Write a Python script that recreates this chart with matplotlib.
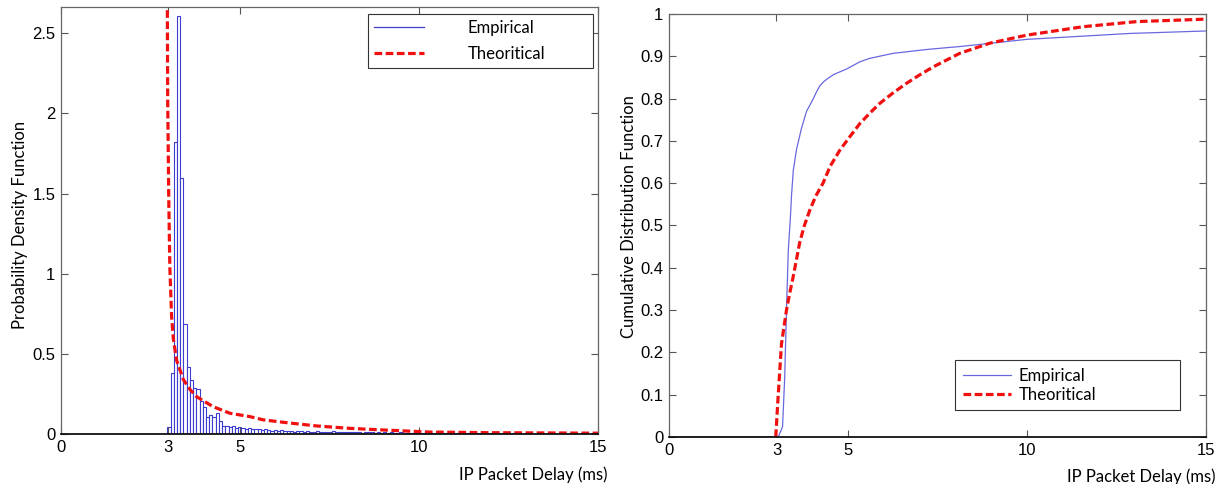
import numpy as np
import matplotlib
matplotlib.use("Agg")
import matplotlib.pyplot as plt

# histogram of measured delays (density), bins of 0.09 ms starting at 2.97 ms
bin_start = 2.97
bin_width = 0.09
pdf_heights = [
    0.047, 0.38, 1.82, 2.61, 1.60, 0.69, 0.42, 0.34, 0.29, 0.28,
    0.21, 0.17, 0.11, 0.12, 0.11, 0.13, 0.08, 0.05, 0.05,
    0.045, 0.05, 0.04, 0.045,
    0.04, 0.035, 0.04, 0.03, 0.035, 0.03, 0.025, 0.03, 0.025, 0.02, 0.025,
    0.02, 0.025, 0.02, 0.018, 0.02, 0.015, 0.02, 0.018, 0.015, 0.02, 0.015,
    0.015, 0.018, 0.012, 0.015, 0.015, 0.012, 0.018, 0.015, 0.012, 0.015, 0.012,
    0.015, 0.012, 0.012, 0.015, 0.01, 0.012, 0.015, 0.012, 0.01, 0.012, 0.01,
    0.012, 0.01, 0.012, 0.01, 0.01, 0.012, 0.008, 0.01, 0.01, 0.008, 0.01,
    0.008, 0.01, 0.008, 0.008, 0.007, 0.008, 0.007, 0.008, 0.006, 0.007, 0.006,
    0.006, 0.007, 0.005, 0.006, 0.006, 0.005, 0.006, 0.005, 0.005, 0.006, 0.005,
    0.005, 0.004, 0.005, 0.004, 0.005, 0.004, 0.004, 0.005, 0.004, 0.004, 0.004,
    0.004, 0.003, 0.004, 0.003, 0.004, 0.003, 0.003, 0.004, 0.003, 0.003, 0.003,
    0.003, 0.003, 0.002, 0.003, 0.003, 0.002, 0.003, 0.002, 0.002, 0.003, 0.002, 0.002,
]

# theoretical pdf
pdf_x = [2.96, 2.97, 2.98, 3.01, 3.04, 3.09, 3.14, 3.23, 3.42, 3.60, 3.79,
         4.25, 4.72, 5.28, 5.65, 6.2, 7.14, 8.07, 9.0, 10.3, 12.0, 15.0]
pdf_y = [2.9, 2.66, 2.09, 1.46, 1.04, 0.73, 0.59, 0.46, 0.34, 0.28, 0.234,
         0.172, 0.131, 0.11, 0.09, 0.075, 0.052, 0.037, 0.027, 0.014, 0.01, 0.007]

# empirical cdf
ecdf_x = [0, 3.05, 3.17, 3.23, 3.28, 3.33, 3.39, 3.42, 3.47, 3.56, 3.70, 3.84,
          3.95, 4.03, 4.12, 4.21, 4.32, 4.44, 4.6, 4.96, 5.33, 5.6, 6.26, 7.19,
          7.84, 8.12, 9.99, 12.87, 15.06]
ecdf_y = [0, 0, 0.024, 0.14, 0.30, 0.44, 0.52, 0.57, 0.63, 0.68, 0.73, 0.77,
          0.787, 0.80, 0.816, 0.83, 0.84, 0.848, 0.857, 0.87, 0.887, 0.895,
          0.907, 0.916, 0.921, 0.923, 0.94, 0.954, 0.96]

# theoretical cdf
tcdf_x = [2.98, 3.05, 3.14, 3.28, 3.37, 3.47, 3.56, 3.65, 3.78, 3.93, 4.1,
          4.30, 4.5, 4.77, 5.05, 5.33, 5.6, 5.89, 6.25, 6.63, 7.0, 7.38, 7.84,
          8.12, 8.96, 9.99, 11.57, 13.06, 15.06]
tcdf_y = [0, 0.10, 0.22, 0.30, 0.34, 0.38, 0.42, 0.46, 0.50, 0.536, 0.57,
          0.60, 0.64, 0.678, 0.71, 0.741, 0.765, 0.789, 0.813, 0.836, 0.856,
          0.875, 0.895, 0.907, 0.931, 0.95, 0.97, 0.982, 0.988]

xticks = [0, 3, 5, 10, 15]
pdf_yticks = [0, 0.5, 1, 1.5, 2, 2.5]
pdf_yticklabels = ["0", "0.5", "1", "1.5", "2", "2.5"]
cdf_yticks = [0, 0.1, 0.2, 0.3, 0.4, 0.5, 0.6, 0.7, 0.8, 0.9, 1]
cdf_yticklabels = ["0", "0.1", "0.2", "0.3", "0.4", "0.5", "0.6", "0.7", "0.8", "0.9", "1"]

blue_bar = "#3c3cd0"
blue_line = "#6868e0"
red = "#f01010"
label_font = "Lato"
tick_font = "Liberation Sans"
dash = (0, (2.4, 1.1))

fig = plt.figure(figsize=(12.2, 4.84), dpi=100)
ax1 = fig.add_axes([0.05, 0.1027, 0.4402, 0.8835])
ax2 = fig.add_axes([0.5484, 0.0971, 0.4402, 0.874])


def style_axes(ax):
    ax.set_xlim(0, 15)
    ax.set_xticks(xticks)
    ax.tick_params(direction="in", top=True, right=True, length=5, width=0.8,
                   color="#555555", labelsize=12, pad=4)
    for lab in ax.get_xticklabels() + ax.get_yticklabels():
        lab.set_fontfamily(tick_font)
    for s in ax.spines.values():
        s.set_color("#666666")
        s.set_linewidth(0.9)
    ax.spines["bottom"].set_color("#111111")
    ax.spines["bottom"].set_linewidth(1.3)
    ax.set_xlabel("IP Packet Delay (ms)", fontfamily=label_font, fontsize=12,
                  ha="right")
    ax.xaxis.set_label_coords(1.018, -0.075)


# left: pdf
edges = bin_start + bin_width * np.arange(len(pdf_heights))
ax1.bar(edges, pdf_heights, width=bin_width, align="edge", facecolor="white",
        edgecolor=blue_bar, linewidth=0.8, label="Empirical")
ax1.plot(pdf_x, pdf_y, color=red, lw=2.3, linestyle=dash, label="Theoritical")
ax1.set_ylim(0, 2.665)
ax1.set_yticks(pdf_yticks)
ax1.set_yticklabels(pdf_yticklabels)
style_axes(ax1)
ax1.set_ylabel("Probability Density Function", fontfamily=label_font, fontsize=12)
ax1.yaxis.set_label_coords(-0.062, 0.49)

h_emp = plt.Line2D([], [], color=blue_bar, lw=0.9)
h_th = plt.Line2D([], [], color=red, lw=2.3, linestyle=dash)
leg1 = ax1.legend([h_emp, h_th], ["Empirical", "Theoritical"],
                  loc="upper left", bbox_to_anchor=(0.572, 0, 0.419, 0.983),
                  mode="expand", borderaxespad=0, fancybox=False, framealpha=1,
                  edgecolor="#333333", handlelength=3.0, handletextpad=2.6,
                  borderpad=0.35, labelspacing=0.6,
                  prop={"family": label_font, "size": 12})
leg1.get_frame().set_linewidth(0.8)

# right: cdf
ax2.plot(ecdf_x, ecdf_y, color=blue_line, lw=0.9, label="Empirical")
ax2.plot(tcdf_x, tcdf_y, color=red, lw=2.3, linestyle=dash, label="Theoritical")
ax2.set_ylim(0, 1)
ax2.set_yticks(cdf_yticks)
ax2.set_yticklabels(cdf_yticklabels)
style_axes(ax2)
ax2.set_ylabel("Cumulative Distribution Function", fontfamily=label_font, fontsize=12)
ax2.yaxis.set_label_coords(-0.06, 0.52)

leg2 = ax2.legend(loc="upper left", bbox_to_anchor=(0.533, 0, 0.419, 0.182),
                  mode="expand", borderaxespad=0, fancybox=False, framealpha=1,
                  edgecolor="#333333", handlelength=2.9, handletextpad=0.45,
                  borderpad=0.45, labelspacing=0.2,
                  prop={"family": label_font, "size": 12})
leg2.get_frame().set_linewidth(0.8)

fig.savefig("out.png", dpi=100)
